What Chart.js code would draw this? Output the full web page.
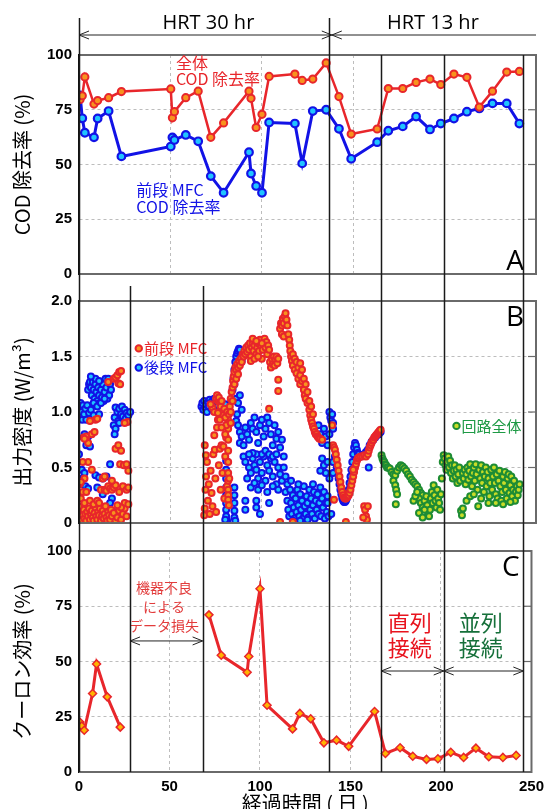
<!DOCTYPE html>
<html><head><meta charset="utf-8">
<script src="https://cdn.jsdelivr.net/npm/chart.js@4.4.1/dist/chart.umd.min.js"></script>
<style>
html,body{margin:0;padding:0;background:#fff;overflow:hidden;width:550px;height:809px}
#wrap{position:relative;width:550px;height:809px;overflow:hidden}
canvas{position:absolute;left:0;top:0}
</style></head><body><div id="wrap">
<canvas id="cA" width="550" height="830"></canvas>
<canvas id="cB" width="550" height="830"></canvas>
<canvas id="cC" width="550" height="830"></canvas>
</div>
<script>
// ---------- DATA ----------
const codDays = [0.6,1.8,3.2,8.2,10.2,16.2,23.2,50.2,51.1,52.2,58.4,65.2,72.1,79.1,93,94.1,96.9,100.1,104,118.1,122.1,127.9,135.2,142.2,148.9,163.1,169.2,177.1,184.4,192,197.9,205.1,212.2,219,226.2,234,240.9];
const codTotal = [79.7,81.4,90,77.6,79.2,80.5,83.3,84.5,71.3,74.1,80.5,83.5,62.4,69,83.5,80.2,66.9,72.9,90.2,91.3,88.4,89,96.4,81,63.9,66.2,84.7,84.7,87.5,89,86.5,91.3,89.8,76.2,83.5,92.2,92.5];
const codFront = [81.5,71.1,64.5,62.4,71,74.4,53.7,58.2,62.4,61.2,63.5,60.6,44.7,37.1,55.6,45.9,40.2,37.1,69.2,68.7,50.5,74.4,75,66.3,52.6,60.2,65.4,67.4,71.9,66,68.7,71,74.1,75.6,77.9,77.9,68.7];

const ceDays = [0.4,1.5,2.9,7.5,9.7,15.6,22.8,47,71.8,78.6,92.9,93.8,100,103.9,118,122,128,135.3,142.3,149,163.3,169.3,177.4,184.4,192,198.3,205.4,212.5,219.3,226.4,234.2,241.5];
const ceValues = [22.6,20.8,18.9,35.5,48.9,34,20.3,null,71.1,52.8,45.1,52.3,82.9,30.2,19.5,26.5,24.1,13.2,14.4,11.6,27.4,8.4,11,7.1,5.7,6,8.9,6.6,10.8,6.9,6.6,7.5];

// power density [day, W/m3]
const powerFront = [
[0.5,0.05],[1,0.10],[1.5,0.03],[2,0.07],[2.5,0.12],[3,0.04],[3.5,0.08],[4,0.02],[4.5,0.10],[5,0.06],[5.5,0.13],[6,0.03],[6.5,0.08],[7,0.11],[7.5,0.05],[8,0.02],[8.5,0.09],[9,0.14],[9.5,0.06],[10,0.03],[10.5,0.10],[11,0.07],[11.5,0.13],[12,0.02],[12.5,0.06],[13,0.11],[13.5,0.04],[14,0.08],[14.5,0.15],[15,0.05],[15.5,0.02],[16,0.10],[16.5,0.07],[17,0.03],[17.5,0.12],[18,0.06],[19,0.09],[20,0.02],[21,0.05],[22,0.11],[23,0.03],[24,0.08],[25,0.13],[26,0.06],
[0,0.15],[0.3,0.35],[1,0.22],[2,0.28],[3,0.18],[4,0.28],[6,0.20],[8,0.17],[10,0.20],[11,0.18],[12,0.30],[13,0.40],[14,0.30],[15,0.29],[16,0.33],[17,0.31],[18,0.30],[19,0.32],[20,0.34],[22,0.28],[24,0.33],[26,0.30],[27,0.32],[25,0.18],[27,0.17],[23,0.14],[21,0.16],[20,0.67],[21.5,0.70],[23,0.65],[22.5,0.53],[24.5,0.52],[26,0.53],[27,0.47],[7,0.48],[5,0.55],[2,0.55],[2.5,0.77],[4,0.78],[7,0.80],[8.5,0.82],[9,0.93],[10,0.94],[6,0.92],[5,0.72],[3,0.76],[16,1.27],[19,1.30],[20,1.31],[21,1.33],[22,1.36],[23,1.37],[21.5,1.26],[22.5,1.25],[26.5,0.91],[25,0.90],[3,0.40],[1,0.37],[18,0.38],[14,0.42],
[68.5,0.07],[68.8,0.13],[69.2,0.30],[69.5,0.42],[69.4,0.61],[68.8,0.70],[70,0.55],[70.5,0.20],[71,0.35],[71.5,0.08],[72,0.47],[72.5,0.27],[73,0.15],[73.5,0.62],[74,0.79],[74.3,0.66],[74.6,0.40],[75,0.10],[75.5,0.86],[76,0.93],[76.5,0.52],[77,0.67],[77.5,0.30],[78,0.70],[78.5,0.45],[79,0.69],[79.5,0.22],[80,0.60],[80.5,0.77],[81,0.33],[81.5,0.93],[81.6,0.85],[81.6,0.75],[81.6,0.65],[81.6,0.55],[81.6,0.45],[81.6,0.38],[81.6,0.30],[81.6,0.25],[81.6,0.21],[82,0.16],[82.2,0.40],
[75,1.12],[75.5,1.15],[76,1.10],[76.5,1.13],[77,1.08],[77.5,1.05],[78,1.10],[78.5,1.00],[79,0.97],[79.5,1.03],[80,0.95],[80.5,0.88],[81,1.00],[82,0.98],[83,0.90],[73,1.04],[72,1.07],[74,1.00],[76,0.99],[77,0.93],[78,0.86],[80,0.80],
[82.5,1.05],[83,1.12],[83.5,1.18],[84,1.22],[84.3,1.28],[84.6,1.32],[85,1.36],[85.5,1.40],[86,1.38],[86.5,1.43],[87,1.40],[87.5,1.46],[88,1.42],[88.5,1.48],[89,1.45],[89.5,1.52],[90,1.50],[90.5,1.55],[91,1.52],[91.5,1.58],[92,1.54],[83,1.00],[84,1.10],[85,1.25],[86,1.30],[87,1.34],
[92.5,1.60],[93,1.56],[93.5,1.62],[94,1.50],[94.5,1.58],[95,1.62],[95.5,1.55],[96,1.60],[96.5,1.64],[97,1.52],[97.5,1.58],[98,1.62],[98.5,1.55],[99,1.65],[99.5,1.60],[100,1.48],[100.5,1.56],[101,1.62],[101.5,1.66],[102,1.58],[102.5,1.63],[103,1.52],[103.5,1.60],[104,1.56],[94,1.46],[96,1.48],[98,1.50],[100,1.62],[95,1.66],[97,1.64],
[104.5,1.45],[105,1.40],[105.5,1.48],[106,1.43],[106.5,1.50],[107,1.42],[107.5,1.47],[108,1.50],[108.5,1.44],[109,1.48],[109,1.29],[109,1.19],
[110,1.75],[110.5,1.80],[111,1.78],[111.5,1.84],[112,1.80],[112.5,1.86],[113,1.89],[113.5,1.83],[114,1.78],[111,1.70],[112,1.68],
[114.5,1.70],[115,1.65],[115.3,1.60],[115.6,1.55],[116,1.50],[116.5,1.46],[117,1.42],[117,1.52],[118,1.38],[118,1.48],[119,1.45],[119,1.35],[120,1.40],[120,1.30],[121,1.44],[121,1.33],[121,1.25],[122,1.38],[122,1.28],[123,1.30],[123,1.20],[123.5,1.15],[124,1.25],[124,1.12],[125,1.18],[125,1.08],[126,1.10],[126,1.02],[126.5,0.97],[127,0.93],[127.5,0.90],[128,0.87],[128.5,0.85],[129,0.82],[129.5,0.80],[130,0.80],[130.5,0.78],[131,0.77],[131.5,0.76],[132,0.76],[133,0.75],[127,1.05],[128,0.98],
[104,1.03],[117,0.01],[110,0.01],
[138.5,0.88],[139,0.70],[139.5,0.68],[140,0.66],[140.5,0.62],[141,0.57],[141.5,0.52],[142,0.47],[142.5,0.42],[143,0.37],[143.5,0.32],[144,0.28],[144.5,0.25],[145,0.23],[145.5,0.22],[146,0.22],[146.5,0.23],[147,0.24],[147.5,0.25],[148,0.27],[148.5,0.30],[149,0.34],[149.5,0.38],[150,0.42],[150.5,0.46],[151,0.50],[151.5,0.53],[152,0.56],[152.5,0.58],[153,0.59],[154,0.60],[155,0.60],[156,0.61],[157,0.60],[158,0.62],[158.5,0.65],[159,0.68],[159.5,0.70],[160,0.72],[160.5,0.74],[161,0.75],[161.5,0.77],[162,0.78],[162.5,0.79],[163,0.80],[163.5,0.81],[164,0.82],[164.5,0.83],[165,0.84],
[139.5,0.21],[146,0.01],[156,0.15],[156.5,0.12],[157,0.06],[157.5,0.03],[158,0.15],[155.5,0.05],[150,0.48]
];
const powerRear = [
[0,0.62],[0.3,1.05],[0.8,1.08],[1.2,1.00],[1.8,0.93],[2.2,1.06],[2.8,0.98],[3.5,1.03],[4,0.93],[4.5,1.06],[5.5,0.99],[6.5,1.02],[3,0.80],[5,0.78],[4,0.70],[6,0.69],[1.5,0.48],[3,0.45],[2,0.40],[1,0.35],[3.5,0.33],[5,0.31],[10,0.32],[9,0.43],[11,0.41],[13,0.40],[15,0.42],[17,0.53],[13,0.26],[18,0.22],[17,0.18],[19,0.10],[8,0.97],[11,0.98],
[5,1.20],[5.5,1.25],[6,1.27],[6.5,1.22],[7,1.15],[7.5,1.27],[8,1.20],[8.5,1.12],[9,1.25],[9.5,1.18],[10,1.10],[10.5,1.22],[11,1.15],[11.5,1.08],[12,1.20],[12.5,1.13],[13,1.25],[13.5,1.10],[14,1.18],[14.5,1.30],[15,1.22],[15.5,1.12],[16,1.30],[16.5,1.15],[17,1.25],[17.5,1.20],[8,1.08],[10,1.05],[12,1.08],[14,1.12],[9,1.30],[11,1.28],[6.5,1.32],
[19.5,0.95],[20,1.04],[21,1.00],[21.5,0.92],[22,1.03],[23,0.98],[23.5,1.05],[24,0.96],[25,1.02],[25.5,0.94],[26,0.99],[27,0.97],[28,1.00],[19,0.88],[20,0.85],[19.5,0.80],[22,0.90],
[67,1.05],[67.5,1.08],[68,1.02],[68.5,1.10],[69,1.04],[69.5,1.07],[70,1.00],[70.5,1.09],[71,1.05],[71.5,1.11],[72,1.08],[72.5,1.03],[73,1.10],[73.5,1.06],[74,1.12],[75,1.09],[76,1.06],[77,1.10],[78,1.04],[79,1.00],[80,1.07],[81,1.02],
[84,1.20],[84.5,1.30],[85,1.38],[85.5,1.45],[86,1.50],[86.5,1.53],[87,1.55],[87.5,1.57],[88,1.56],[88.5,1.50],[89,1.46],[85,1.25],[86,1.35],[87,1.42],[86,1.12],[87,1.08],[88,1.15],[86.5,0.98],[89,1.02],
[80.5,0.56],[80.5,0.48],[80.5,0.40],[80.5,0.32],[80.5,0.25],[80.5,0.18],[80.5,0.12],[80.5,0.06],[81,0.02],[80,0.03],
[85,0.32],[85,0.25],[85,0.18],[85,0.11],[85,0.05],[85.5,0.02],
[86,0.92],[87,0.88],[88,0.82],[89,0.78],[88,0.72],[90,0.70],[91,0.86],[92,0.80],[93,0.75],[94,0.90],[95,0.85],[96,0.95],[97,0.82],[98,0.72],[99,0.88],[100,0.93],[101,0.78],[102,0.85],[103,0.95],[104,0.90],[105,0.80],[106,0.70],[107,0.88],[108,0.76],[109,0.82],[110,0.68],[111,0.75],[112,0.60],
[90,0.60],[91,0.55],[93,0.50],[94,0.45],[95,0.58],[96,0.52],[97,0.48],[98,0.40],[99,0.55],[100,0.45],[101,0.60],[102,0.38],[103,0.52],[104,0.47],[105,0.58],[106,0.42],[107,0.55],[108,0.35],[109,0.50],[110,0.44],[111,0.38],[112,0.50],[113,0.42],[114,0.35],[100,0.62],[102,0.65],[104,0.62],[106,0.60],[108,0.62],[97,0.62],[95,0.63],[93,0.62],[92,0.40],[94,0.32],[96,0.36],[98,0.30],[100,0.34],[103,0.28],[106,0.33],[109,0.30],[91,0.20],[91,0.12],[97,0.20],[97,0.14],[99,0.08],[104,0.18],
[113,0.28],[114,0.20],[114.5,0.12],[115,0.06],[115.5,0.30],[116,0.18],[116.5,0.08],[117,0.25],[117.5,0.14],[118,0.04],[118.5,0.22],[119,0.10],[119.5,0.30],[120,0.16],[120.5,0.06],[121,0.26],[121.5,0.12],[122,0.20],[122.5,0.04],[123,0.33],[123.5,0.15],[124,0.08],[124.5,0.24],[125,0.18],[125.5,0.05],[126,0.30],[126.5,0.12],[127,0.22],[127.5,0.08],[128,0.16],[128.5,0.28],[129,0.04],[129.5,0.20],[130,0.12],[130.5,0.26],[131,0.08],[131.5,0.18],[132,0.32],[132.5,0.06],[133,0.22],[133.5,0.14],[134,0.28],[134.5,0.04],[135,0.18],[135.5,0.10],[136,0.24],[117,0.02],[121,0.02],[125,0.03],[128,0.35],[120,0.35],[116,0.38],
[131,0.88],[132,0.80],[133,0.72],[134,0.85],[135,0.78],[136,0.70],[133,0.58],[134,0.52],[135,0.45],[136,0.55],[137,0.40],[132,0.47],[136.5,0.06],[137,1.00],[137.5,0.95],[138,0.92],[138.5,0.98],[139,0.90],[139,0.85],[137,0.80],
[140,0.60],[140.5,0.55],[141,0.50],[141.5,0.45],[142,0.40],[142.5,0.35],[143,0.30],[143.5,0.26],[144,0.22],[144.5,0.20],[145,0.19],[145.5,0.19],[146,0.20],[146.5,0.22],[147,0.25],[147.5,0.30],[148,0.36],[148.5,0.42],[149,0.48],[149.5,0.55],[150,0.62],[150.5,0.68],[151,0.72],[151.5,0.70],[152,0.66],[152.5,0.63],[153,0.62],[154,0.60],[155,0.61],[156,0.62],[157,0.64],[158,0.66],[158.5,0.50],[159,0.70],[160,0.73],[161,0.75],[162,0.77],[163,0.79],[164,0.80],[165,0.82],[136,0.18],[138,0.08],[139,0.55],[139,0.45]
];
const powerTotal = [
[165.5,0.61],[166,0.58],[166.5,0.56],[167,0.55],[167.5,0.53],[168,0.52],[168.5,0.50],[169,0.50],[170,0.49],[171,0.46],[172,0.44],[173,0.43],[174,0.47],[175,0.50],[176,0.52],[177,0.51],[178,0.49],[179,0.47],[180,0.44],[181,0.42],[182,0.39],[183,0.37],[184,0.35],[185,0.33],[186,0.30],[187,0.27],[188,0.25],
[172,0.38],[173,0.34],[173.5,0.30],[174,0.26],[173.3,0.17],
[186,0.22],[187,0.18],[188,0.14],[189,0.20],[190,0.24],[190.5,0.16],[191,0.10],[191.5,0.06],[192,0.12],[192.5,0.22],[193,0.28],[193.5,0.18],[194,0.34],[194.5,0.25],[195,0.20],[195.5,0.14],[196,0.30],[196.5,0.22],[197,0.18],[197.5,0.12],[198,0.26],[198.5,0.40],[199,0.55],[199.5,0.61],[200,0.58],[200.5,0.52],[201,0.48],[201.5,0.55],[202,0.60],[202.5,0.50],[203,0.56],[203.5,0.45],[204,0.52],[204.5,0.40],[205,0.47],[205.5,0.52],[206,0.42],[206.5,0.48],[207,0.36],[207.5,0.44],[208,0.50],[208.5,0.38],[209,0.11],[209.5,0.07],[210,0.13],[210,0.45],[210.5,0.40],[211,0.48],[211.5,0.35],[212,0.44],[212.5,0.50],[213,0.39],[213.5,0.47],[214,0.53],[214.5,0.42],[215,0.33],[215.5,0.45],[216,0.50],[216.5,0.38],[217,0.53],[217.5,0.44],[218,0.30],[218.4,0.15],[219,0.48],[219.5,0.40],[220,0.52],[220.5,0.36],[221,0.46],[221.5,0.28],[222,0.42],[222.5,0.50],[223,0.33],[223.5,0.46],[224,0.40],[224.5,0.24],[225,0.36],[225.5,0.48],[226,0.30],[226.5,0.42],[227,0.50],[227.5,0.36],[228,0.26],[228.5,0.44],[229,0.22],[229.5,0.38],[230,0.47],[230.5,0.33],[231,0.20],[231.5,0.28],[232,0.42],[232.5,0.36],[233,0.46],[233.5,0.30],[234,0.22],[234.5,0.40],[235,0.44],[235.5,0.27],[236,0.34],[236.5,0.42],[237,0.24],[237.5,0.30],[238,0.38],[238.5,0.20],[239,0.28],[239.5,0.33],[240,0.25],[240.5,0.30],[241,0.35],[212,0.20],[214,0.24],[216,0.26],[220,0.22],[224,0.18],[228,0.18],[232,0.17],[236,0.19],
[183,0.20],[184,0.24],[185,0.28],[189,0.12],[186,0.09],[188,0.05]
];

// period boundaries (days)
const hrtBoundary = 138.3;
const modeLines = [167, 201.5, 245.5];
const lossPeriod = [28.2, 68.3];

// ---------- STYLE ----------
const RED = '#e8262b', ORANGE = '#f7931e', BLUE = '#1212e6', CYAN = '#20c4ff', GREEN = '#1e8c34', LIME = '#c8dc28';
const JP = '"Noto Sans CJK JP", "Noto Sans", sans-serif';
const TICKFONT = {family: '"Liberation Sans", Arial, sans-serif', size: 15, weight: 'bold'};
const PLOT_LEFT = 79, PLOT_RIGHT_PAD = 14, CANVAS_H = 830;

const toXY = (xs, ys) => xs.map((x, i) => ({x, y: ys[i]}));
const toPts = arr => arr.map(p => ({x: p[0], y: p[1]}));

function chevron(ctx, x, y, dir) {
  ctx.beginPath();
  ctx.moveTo(x + dir * 10, y - 4); ctx.lineTo(x, y); ctx.lineTo(x + dir * 10, y + 4);
  ctx.stroke();
}
function hArrow(ctx, x1, x2, y, left = true, right = true) {
  ctx.beginPath(); ctx.moveTo(x1, y); ctx.lineTo(x2, y); ctx.stroke();
  if (left) chevron(ctx, x1, y, 1);
  if (right) chevron(ctx, x2, y, -1);
}

const annPlugin = {
  id: 'ann',
  afterDraw(chart, args, opts) {
    const ctx = chart.ctx, xs = chart.scales.x, ys = chart.scales.y, ca = chart.chartArea;
    ctx.save();
    ctx.strokeStyle = '#6a6a6a'; ctx.lineWidth = 2;
    ctx.beginPath();
    ctx.moveTo(ca.left, ca.top); ctx.lineTo(ca.right, ca.top); ctx.lineTo(ca.right, ca.bottom); ctx.lineTo(ca.left, ca.bottom);
    ctx.stroke();
    ctx.lineWidth = 1.2;
    (opts.rightTicks || []).forEach(v => {
      const y = ys.getPixelForValue(v);
      ctx.beginPath(); ctx.moveTo(ca.right - 8, y); ctx.lineTo(ca.right, y); ctx.stroke();
    });
    (opts.dots || []).forEach(d => {
      ctx.beginPath();
      ctx.arc(xs.getPixelForValue(d.x), ys.getPixelForValue(d.y), 3.2, 0, Math.PI * 2);
      ctx.fillStyle = d.fill; ctx.fill(); ctx.lineWidth = 2; ctx.strokeStyle = d.stroke; ctx.stroke();
    });
    (opts.texts || []).forEach(t => {
      ctx.font = t.font; ctx.fillStyle = t.color; ctx.textAlign = t.align || 'left'; ctx.textBaseline = 'middle';
      ctx.fillText(t.text, xs.getPixelForValue(t.x), ys.getPixelForValue(t.y));
    });
    ctx.strokeStyle = '#222'; ctx.lineWidth = 1;
    (opts.arrows || []).forEach(a => {
      hArrow(ctx, xs.getPixelForValue(a.x1), xs.getPixelForValue(a.x2), ys.getPixelForValue(a.y), a.left !== false, a.right !== false);
    });
    if (opts.extra) opts.extra(chart, ctx);
    ctx.restore();
  }
};

function baseOptions(padTop, padBottom, yMin, yMax, yStep, yTitle, showX) {
  return {
    responsive: false, animation: false, devicePixelRatio: 1,
    layout: {padding: {top: padTop, bottom: padBottom, left: 0, right: PLOT_RIGHT_PAD}},
    plugins: {legend: {display: false}, tooltip: {enabled: false}},
    scales: {
      x: {
        type: 'linear', min: 0, max: 250,
        ticks: {display: showX, stepSize: 50, color: '#000', font: TICKFONT, padding: 6, maxRotation: 0},
        grid: {color: '#bdbdbd', lineWidth: 1, drawTicks: false},
        border: {display: true, color: '#222', width: 1.5, dash: [3, 3]},
        title: showX ? {display: true, text: '経過時間 ( 日 )', color: '#000', font: {family: JP, size: 20}, padding: {top: 0, bottom: 15}} : {display: false},
        afterFit: s => { s.height = showX ? CANVAS_H - 772 : 0; }
      },
      y: {
        min: yMin, max: yMax,
        ticks: {stepSize: yStep, color: '#000', font: TICKFONT, padding: 7,
          callback: v => (yStep < 1 ? (v === 0 ? '0' : v.toFixed(1)) : String(v))},
        grid: {color: '#bdbdbd', lineWidth: 1, drawTicks: false},
        border: {display: true, color: '#111', width: 1.5, dash: [3, 3]},
        title: {display: true, text: yTitle, color: '#000', font: {family: JP, size: 20}, padding: {top: 10, bottom: 0}},
        afterFit: s => { s.width = PLOT_LEFT; }
      }
    }
  };
}

// ---------- CHART A ----------
const optA = baseOptions(55, CANVAS_H - 274, 0, 100, 25, 'COD 除去率 (%)', false);
optA.plugins.ann = {
  rightTicks: [25, 50, 75],
  texts: [
    {text: '全体', x: 53, y: 96.6, color: RED, font: '16px ' + JP},
    {text: 'COD 除去率', x: 53, y: 89, color: RED, font: '16px ' + JP},
    {text: '前段 MFC', x: 31.3, y: 38.4, color: BLUE, font: '16px ' + JP},
    {text: 'COD 除去率', x: 31.3, y: 30.6, color: BLUE, font: '16px ' + JP},
    {text: 'A', x: 238.6, y: 5.5, color: '#000', font: '28px "Open Sans", sans-serif', align: 'center'}
  ],
  extra: (chart, ctx) => {
    const xs = chart.scales.x, ca = chart.chartArea;
    const yArrow = ca.top - 20, yText = ca.top - 32;
    ctx.strokeStyle = '#222'; ctx.lineWidth = 1;
    const xb = xs.getPixelForValue(hrtBoundary);
    hArrow(ctx, xs.getPixelForValue(0), xb, yArrow, true, true);
    hArrow(ctx, xb, ca.right, yArrow, true, false);
    ctx.font = '20px "Open Sans", sans-serif'; ctx.fillStyle = '#000'; ctx.textAlign = 'center'; ctx.textBaseline = 'middle';
    ctx.fillText('HRT 30 hr', (xs.getPixelForValue(0) + xb) / 2 + 3, yText);
    ctx.fillText('HRT 13 hr', (xb + ca.right) / 2 - 1, yText);
  }
};
window.chA = new Chart(document.getElementById('cA'), {
  type: 'line',
  data: {datasets: [
    {label: '全体 COD 除去率', data: toXY(codDays, codTotal), borderColor: RED, borderWidth: 2.5,
     pointRadius: 3.6, pointBorderWidth: 2, pointBorderColor: RED, pointBackgroundColor: ORANGE, tension: 0},
    {label: '前段 MFC COD 除去率', data: toXY(codDays, codFront), borderColor: BLUE, borderWidth: 3,
     pointRadius: 3.8, pointBorderWidth: 2.2, pointBorderColor: BLUE, pointBackgroundColor: CYAN, tension: 0}
  ]},
  options: optA,
  plugins: [annPlugin]
});

// ---------- CHART B ----------
const optB = baseOptions(301, CANVAS_H - 523, 0, 2, 0.5, '出力密度 (W/m³)', false);
optB.plugins.ann = {
  rightTicks: [0.5, 1, 1.5],
  dots: [
    {x: 32.7, y: 1.573, fill: ORANGE, stroke: RED},
    {x: 32.7, y: 1.40, fill: CYAN, stroke: BLUE},
    {x: 206.5, y: 0.875, fill: LIME, stroke: GREEN}
  ],
  texts: [
    {text: '前段 MFC', x: 35.6, y: 1.573, color: RED, font: '15px ' + JP},
    {text: '後段 MFC', x: 35.6, y: 1.40, color: BLUE, font: '15px ' + JP},
    {text: '回路全体', x: 209.3, y: 0.875, color: '#1e9a45', font: '15px ' + JP},
    {text: 'B', x: 238.6, y: 1.85, color: '#000', font: '28px "Open Sans", sans-serif', align: 'center'}
  ]
};
window.chB = new Chart(document.getElementById('cB'), {
  type: 'scatter',
  data: {datasets: [
    {label: '前段 MFC', data: toPts(powerFront), pointRadius: 3, pointBorderWidth: 2, pointBorderColor: RED, pointBackgroundColor: ORANGE},
    {label: '後段 MFC', data: toPts(powerRear), pointRadius: 3, pointBorderWidth: 2, pointBorderColor: BLUE, pointBackgroundColor: CYAN},
    {label: '回路全体', data: toPts(powerTotal), pointRadius: 3, pointBorderWidth: 2, pointBorderColor: GREEN, pointBackgroundColor: LIME}
  ]},
  options: optB,
  plugins: [annPlugin]
});

// ---------- CHART C ----------
const optC = baseOptions(551, 0, 0, 100, 25, 'クーロン効率 (%)', true);
optC.plugins.ann = {
  rightTicks: [25, 50, 75],
  texts: [
    {text: '機器不良', x: 46.9, y: 83.3, color: '#e23c3c', font: '14px ' + JP, align: 'center'},
    {text: 'による', x: 46.9, y: 74.7, color: '#e23c3c', font: '14px ' + JP, align: 'center'},
    {text: 'データ損失', x: 46.9, y: 66.1, color: '#e23c3c', font: '14px ' + JP, align: 'center'},
    {text: '直列', x: 182.7, y: 67.4, color: '#e8141e', font: '22px ' + JP, align: 'center'},
    {text: '接続', x: 182.7, y: 56.4, color: '#e8141e', font: '22px ' + JP, align: 'center'},
    {text: '並列', x: 222, y: 67.4, color: '#16703a', font: '22px ' + JP, align: 'center'},
    {text: '接続', x: 222, y: 56.4, color: '#16703a', font: '22px ' + JP, align: 'center'},
    {text: 'C', x: 238.6, y: 92.3, color: '#000', font: '28px "Open Sans", sans-serif', align: 'center'}
  ],
  arrows: [
    {x1: lossPeriod[0], x2: lossPeriod[1], y: 59.3},
    {x1: modeLines[0], x2: modeLines[1], y: 45.7},
    {x1: modeLines[1], x2: modeLines[2], y: 45.7}
  ],
  extra: (chart, ctx) => {
    const xs = chart.scales.x, caC = chart.chartArea, caA = window.chA.chartArea;
    ctx.strokeStyle = '#1a1a1a'; ctx.lineWidth = 1.5;
    const vline = (d, y1) => {
      const x = Math.round(xs.getPixelForValue(d)) + 0.5;
      ctx.beginPath(); ctx.moveTo(x, y1); ctx.lineTo(x, caC.bottom); ctx.stroke();
    };
    [0, hrtBoundary].forEach(d => vline(d, caA.top - 37));
    modeLines.forEach(d => vline(d, caA.top));
    lossPeriod.forEach(d => vline(d, caA.bottom + 12));
  }
};
window.chC = new Chart(document.getElementById('cC'), {
  type: 'line',
  data: {datasets: [
    {label: 'クーロン効率', data: toXY(ceDays, ceValues), borderColor: RED, borderWidth: 3, spanGaps: false,
     pointStyle: 'rectRot', pointRadius: 4, pointBorderWidth: 1.5, pointBorderColor: RED, pointBackgroundColor: '#ffb400', tension: 0}
  ]},
  options: optC,
  plugins: [annPlugin]
});
</script>
</body></html>
